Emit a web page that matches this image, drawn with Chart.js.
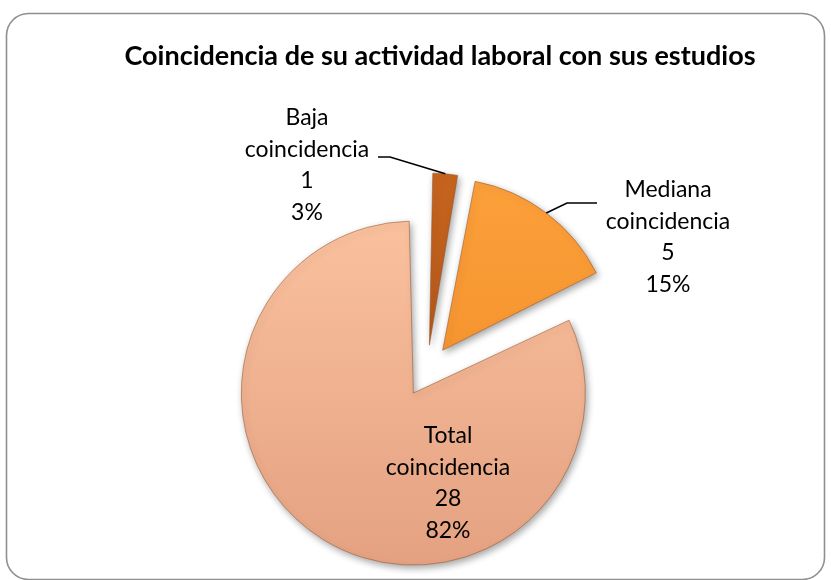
<!DOCTYPE html>
<html><head><meta charset="utf-8">
<script src="https://cdn.jsdelivr.net/npm/chart.js@4.4.0/dist/chart.umd.min.js"></script>
<style>html,body{margin:0;padding:0;background:#fff;overflow:hidden}</style>
</head><body>
<canvas id="c" width="831" height="580"></canvas>
<script>
// ---- data ----
const chartTitle = 'Coincidencia de su actividad laboral con sus estudios';
const categories = ['Baja coincidencia', 'Mediana coincidencia', 'Total coincidencia'];
const labelNames = [['Baja', 'coincidencia'], ['Mediana', 'coincidencia'], ['Total', 'coincidencia']];
const counts = [1, 5, 28];
const percents = ['3%', '15%', '82%'];
const colorsTop = ['#c9661f', '#fda23c', '#fcc3a0'];
const colorsBottom = ['#a24c18', '#ee8824', '#e29f7f'];

// ---- layout constants ----
const R = 172;
const EXPLODE = 26;          // visual translation in px
const LABEL_FONT = '23px Lato, "Open Sans", sans-serif';
const TITLE_FONT = 'bold 27px Lato, "Open Sans", sans-serif';
const LINE_H = 31.5;
const labelPos = [{x: 307, y: 118}, {x: 668, y: 190}, {x: 448, y: 436}];
const leaderBends = [[[378, 157], [390, 157]], [[597, 203], [567, 203]], null];

const borderPlugin = {
  id: 'frame',
  beforeDraw(chart) {
    const ctx = chart.ctx;
    ctx.save();
    ctx.fillStyle = '#fff';
    ctx.fillRect(0, 0, chart.width, chart.height);
    ctx.strokeStyle = '#8f8f8f';
    ctx.lineWidth = 1.6;
    ctx.beginPath();
    ctx.roundRect(6.5, 13.5, 818, 566, 22);
    ctx.stroke();
    ctx.fillStyle = '#000';
    ctx.font = TITLE_FONT;
    ctx.textAlign = 'center';
    ctx.textBaseline = 'middle';
    ctx.fillText(chartTitle, 440, 56);
    ctx.restore();
  }
};

const radiusFix = {
  id: 'radiusFix',
  afterDatasetsUpdate(chart) {
    const meta = chart.getDatasetMeta(0);
    meta.data.forEach(arc => {
      const off = (arc.options.offset || 0) / 4;
      const fix = 1 - Math.sin(Math.min(Math.PI, arc.circumference));
      arc.outerRadius = R - off * fix;
    });
  }
};

const shadowPlugin = {
  id: 'shadow',
  beforeDatasetsDraw(chart) {
    const ctx = chart.ctx;
    ctx.save();
    ctx.shadowColor = 'rgba(0,0,0,0.35)';
    ctx.shadowBlur = 7;
    ctx.shadowOffsetX = 2;
    ctx.shadowOffsetY = 3;
  },
  afterDatasetsDraw(chart) {
    chart.ctx.restore();
  }
};

const labelPlugin = {
  id: 'labels',
  afterDraw(chart) {
    const ctx = chart.ctx;
    const meta = chart.getDatasetMeta(0);
    ctx.save();
    ctx.font = LABEL_FONT;
    ctx.fillStyle = '#000';
    ctx.textAlign = 'center';
    ctx.textBaseline = 'middle';
    meta.data.forEach((arc, i) => {
      const lines = [...labelNames[i], String(counts[i]), percents[i]];
      lines.forEach((t, k) => ctx.fillText(t, labelPos[i].x, labelPos[i].y + k * LINE_H));
      const bends = leaderBends[i];
      if (bends) {
        const mid = (arc.startAngle + arc.endAngle) / 2;
        const d = EXPLODE + R;
        const px = arc.x + Math.cos(mid) * d;
        const py = arc.y + Math.sin(mid) * d;
        ctx.strokeStyle = '#000';
        ctx.lineWidth = 1.6;
        ctx.beginPath();
        ctx.moveTo(bends[0][0], bends[0][1]);
        ctx.lineTo(bends[1][0], bends[1][1]);
        ctx.lineTo(px, py);
        ctx.stroke();
      }
    });
    ctx.restore();
  }
};

function sliceGradient(context) {
  const i = context.dataIndex;
  const chart = context.chart;
  const area = chart.chartArea;
  if (!area) return colorsTop[i];
  const cy = (area.top + area.bottom) / 2;
  const g = chart.ctx.createLinearGradient(0, cy - R - EXPLODE, 0, cy + R + EXPLODE);
  g.addColorStop(0, colorsTop[i]);
  g.addColorStop(1, colorsBottom[i]);
  return g;
}

new Chart(document.getElementById('c'), {
  type: 'pie',
  data: {
    labels: categories,
    datasets: [{
      data: counts,
      backgroundColor: sliceGradient,
      borderColor: 'rgba(150,85,45,0.55)',
      borderWidth: 1,
      offset: EXPLODE * 4,
      radius: R
    }]
  },
  options: {
    responsive: false,
    animation: false,
    devicePixelRatio: 1,
    layout: {padding: {left: 23, right: 0, top: 162, bottom: 0}},
    plugins: {legend: {display: false}, title: {display: false}, tooltip: {enabled: false}}
  },
  plugins: [borderPlugin, radiusFix, shadowPlugin, labelPlugin]
});
</script>
</body></html>
